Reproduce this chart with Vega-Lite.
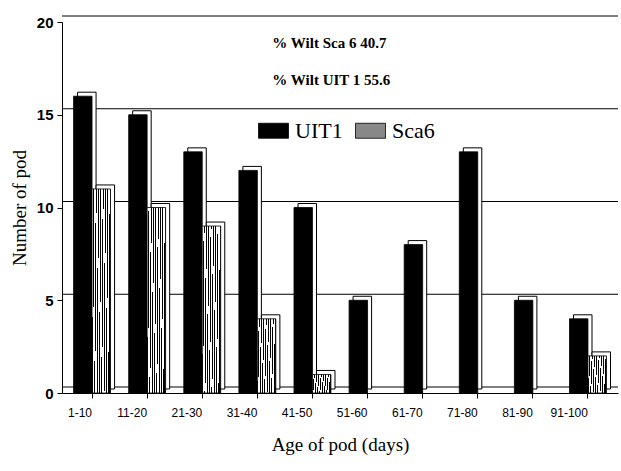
{
  "$schema": "https://vega.github.io/schema/vega-lite/v6.json",
  "autosize": "none",
  "width": 556,
  "height": 371,
  "padding": {"left": 62, "top": 22, "right": 3, "bottom": 78},
  "background": "white",
  "config": {"view": {"stroke": null}},
  "datasets": {
    "pods": [
      {"age": "1-10", "series": "UIT1", "count": 16},
      {"age": "1-10", "series": "Sca6", "count": 11},
      {"age": "11-20", "series": "UIT1", "count": 15},
      {"age": "11-20", "series": "Sca6", "count": 10},
      {"age": "21-30", "series": "UIT1", "count": 13},
      {"age": "21-30", "series": "Sca6", "count": 9},
      {"age": "31-40", "series": "UIT1", "count": 12},
      {"age": "31-40", "series": "Sca6", "count": 4},
      {"age": "41-50", "series": "UIT1", "count": 10},
      {"age": "41-50", "series": "Sca6", "count": 1},
      {"age": "51-60", "series": "UIT1", "count": 5},
      {"age": "51-60", "series": "Sca6", "count": 0},
      {"age": "61-70", "series": "UIT1", "count": 8},
      {"age": "61-70", "series": "Sca6", "count": 0},
      {"age": "71-80", "series": "UIT1", "count": 13},
      {"age": "71-80", "series": "Sca6", "count": 0},
      {"age": "81-90", "series": "UIT1", "count": 5},
      {"age": "81-90", "series": "Sca6", "count": 0},
      {"age": "91-100", "series": "UIT1", "count": 4},
      {"age": "91-100", "series": "Sca6", "count": 2}
    ]
  },
  "resolve": {"scale": {"xOffset": "independent"}},
  "layer": [
    {
      "data": {"values": [{"g": 0}, {"g": 5}, {"g": 10}, {"g": 15}, {"g": 20}]},
      "mark": {"type": "rule", "color": "black", "strokeWidth": 1, "yOffset": -6},
      "encoding": {
        "y": {"field": "g", "type": "quantitative", "scale": {"domain": [0, 20]}}
      }
    },
    {
      "data": {"name": "pods"},
      "transform": [{"filter": "datum.count > 0"}],
      "mark": {"type": "bar", "fill": "white", "stroke": "black", "strokeWidth": 1, "yOffset": -4, "y2Offset": -4},
      "encoding": {
        "x": {"field": "age", "type": "nominal", "sort": null, "scale": {"paddingInner": 0.33, "paddingOuter": 0.21}},
        "xOffset": {"field": "series", "type": "nominal", "sort": ["UIT1", "Sca6"], "scale": {"domain": ["UIT1", "Sca6"], "range": [4, 41], "paddingInner": 0, "paddingOuter": 0}},
        "y": {"field": "count", "type": "quantitative"}
      }
    },
    {
      "data": {"name": "pods"},
      "transform": [{"filter": "datum.count > 0"}],
      "mark": {"type": "bar", "stroke": "black", "strokeWidth": 0.8},
      "encoding": {
        "x": {
          "field": "age", "type": "nominal", "sort": null,
          "axis": {
            "title": "Age of pod (days)",
            "titleFont": "Liberation Serif", "titleFontSize": 19, "titleFontWeight": "normal", "titleColor": "black", "titlePadding": 17,
            "labelFont": "Liberation Sans", "labelFontSize": 12, "labelColor": "black", "labelAngle": 0, "labelPadding": 14,
            "tickColor": "black", "tickSize": 5, "domainColor": "black"
          }
        },
        "xOffset": {"field": "series", "type": "nominal", "sort": ["UIT1", "Sca6"], "scale": {"domain": ["UIT1", "Sca6"], "paddingInner": 0, "paddingOuter": 0}},
        "y": {
          "field": "count", "type": "quantitative",
          "scale": {"domain": [0, 20], "nice": false},
          "axis": {
            "title": "Number of pod", "values": [0, 5, 10, 15, 20], "grid": false,
            "titleFont": "Liberation Serif", "titleFontSize": 19, "titleFontWeight": "normal", "titleColor": "black", "titlePadding": 7,
            "labelFont": "Liberation Sans", "labelFontSize": 15, "labelFontWeight": "bold", "labelColor": "black", "labelPadding": 4,
            "tickColor": "black", "tickSize": 5, "domainColor": "black"
          }
        },
        "color": {
          "field": "series", "type": "nominal",
          "scale": {"domain": ["UIT1", "Sca6"], "range": ["black", "#888888"]},
          "condition": {
            "test": "datum.series === 'Sca6'",
            "value": {"gradient": "linear", "x1": 0, "y1": 0, "x2": 1, "y2": 0.08, "stops": [
                {"offset": 0, "color": "white"}, {"offset": 0.075, "color": "white"}, {"offset": 0.075, "color": "black"}, {"offset": 0.125, "color": "black"},
                {"offset": 0.125, "color": "white"}, {"offset": 0.2, "color": "white"}, {"offset": 0.2, "color": "black"}, {"offset": 0.25, "color": "black"},
                {"offset": 0.25, "color": "white"}, {"offset": 0.325, "color": "white"}, {"offset": 0.325, "color": "black"}, {"offset": 0.375, "color": "black"},
                {"offset": 0.375, "color": "white"}, {"offset": 0.45, "color": "white"}, {"offset": 0.45, "color": "black"}, {"offset": 0.5, "color": "black"},
                {"offset": 0.5, "color": "white"}, {"offset": 0.575, "color": "white"}, {"offset": 0.575, "color": "black"}, {"offset": 0.625, "color": "black"},
                {"offset": 0.625, "color": "white"}, {"offset": 0.7, "color": "white"}, {"offset": 0.7, "color": "black"}, {"offset": 0.75, "color": "black"},
                {"offset": 0.75, "color": "white"}, {"offset": 0.825, "color": "white"}, {"offset": 0.825, "color": "black"}, {"offset": 0.875, "color": "black"},
                {"offset": 0.875, "color": "white"}, {"offset": 0.95, "color": "white"}, {"offset": 0.95, "color": "black"}, {"offset": 1, "color": "black"}
              ]}
          },
          "legend": {
            "title": null, "orient": "none", "legendX": 196, "legendY": 93, "direction": "horizontal",
            "symbolType": "M-1,-0.5H1V0.5H-1Z", "symbolSize": 900, "symbolStrokeColor": "black", "symbolStrokeWidth": 0.8,
            "labelFont": "Liberation Serif", "labelFontSize": 22, "labelColor": "black", "labelOffset": 6, "columnPadding": 10,
            "encoding": {
              "symbols": {
                "fill": {"signal": "datum.value === 'Sca6' ? {gradient: 'linear', x1: 0, y1: 0, x2: 1, y2: 0.15, stops: [{offset: 0, color: 'white'}, {offset: 0.1, color: 'white'}, {offset: 0.1, color: 'black'}, {offset: 0.167, color: 'black'}, {offset: 0.167, color: 'white'}, {offset: 0.267, color: 'white'}, {offset: 0.267, color: 'black'}, {offset: 0.333, color: 'black'}, {offset: 0.333, color: 'white'}, {offset: 0.433, color: 'white'}, {offset: 0.433, color: 'black'}, {offset: 0.5, color: 'black'}, {offset: 0.5, color: 'white'}, {offset: 0.6, color: 'white'}, {offset: 0.6, color: 'black'}, {offset: 0.667, color: 'black'}, {offset: 0.667, color: 'white'}, {offset: 0.767, color: 'white'}, {offset: 0.767, color: 'black'}, {offset: 0.833, color: 'black'}, {offset: 0.833, color: 'white'}, {offset: 0.933, color: 'white'}, {offset: 0.933, color: 'black'}, {offset: 1, color: 'black'}]} : 'black'"},
                "size": {"signal": "datum.value === 'Sca6' ? 340 : 900"}
              }
            }
          }
        }
      }
    },
    {
      "data": {"values": [
        {"t": "% Wilt Sca 6 40.7", "c": "31-40", "v": 18.85},
        {"t": "% Wilt UIT 1 55.6", "c": "31-40", "v": 16.85}
      ]},
      "mark": {"type": "text", "align": "left", "baseline": "middle", "dx": 15, "font": "Liberation Serif", "fontSize": 15, "fontWeight": "bold", "color": "black"},
      "encoding": {
        "x": {"field": "c", "type": "nominal", "sort": null},
        "y": {"field": "v", "type": "quantitative"},
        "text": {"field": "t"}
      }
    }
  ]
}
